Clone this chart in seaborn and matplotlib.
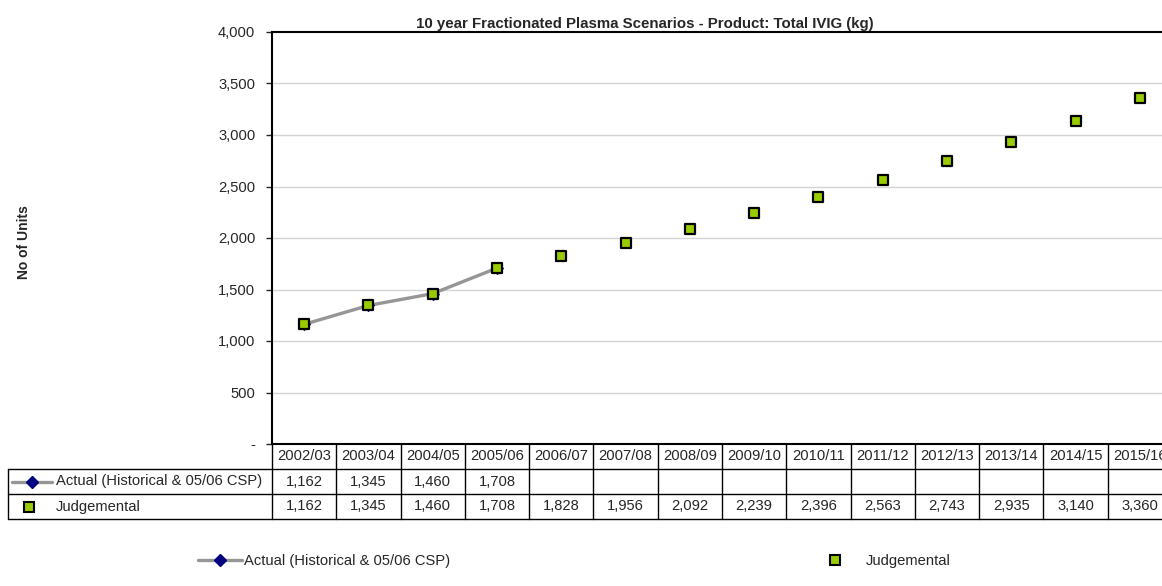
# 10 year Fractionated Plasma Scenarios - Total IVIG (kg)
import numpy as np
import pandas as pd
import matplotlib
matplotlib.use('Agg')
import matplotlib.pyplot as plt
from matplotlib.lines import Line2D
import seaborn as sns

# data
years = ['2002/03', '2003/04', '2004/05', '2005/06', '2006/07', '2007/08', '2008/09',
         '2009/10', '2010/11', '2011/12', '2012/13', '2013/14', '2014/15', '2015/16']
actual = [1162, 1345, 1460, 1708]
judgemental = [1162, 1345, 1460, 1708, 1828, 1956, 2092, 2239, 2396, 2563, 2743, 2935, 3140, 3360]

actual_label = 'Actual (Historical & 05/06 CSP)'
judge_label = 'Judgemental'

sns.set_style('white')
plt.rcParams['font.family'] = ['Liberation Sans', 'DejaVu Sans']
fs = 10.6

df_act = pd.DataFrame({'pos': np.arange(len(actual)), 'value': actual})
df_jud = pd.DataFrame({'pos': np.arange(len(judgemental)), 'value': judgemental})

W, H = 1162, 586
fig = plt.figure(figsize=(W / 100, H / 100), dpi=100)
# plot area: left 272px, top 32px, bottom 444px, runs slightly past the right edge
ax = fig.add_axes([272 / W, 1 - 444 / H, 900 / W, 412 / H])

grey = '#969696'
navy = '#000080'
green = '#99CC00'

sns.lineplot(data=df_act, x='pos', y='value', ax=ax, color=grey, linewidth=2.4,
             marker='D', markersize=6.5, markerfacecolor=navy, markeredgecolor=navy, zorder=3)
sns.scatterplot(data=df_jud, x='pos', y='value', ax=ax, marker='s', s=52,
                color=green, edgecolor='black', linewidth=1.6, zorder=4)

ax.set_xlim(-0.5, len(years) - 0.5)
ax.set_ylim(0, 4000)
ax.set_yticks(np.arange(0, 4001, 500))
ax.yaxis.set_major_formatter(plt.FuncFormatter(lambda v, p: '-' if v == 0 else f'{v:,.0f}'))
ax.set_xticks([])
ax.set_xlabel('')
ax.set_ylabel('')
ax.tick_params(axis='y', labelsize=fs, length=4, width=1, left=True, direction='out', pad=8)

fig.text(24 / W, 1 - 242 / H, 'No of Units', rotation=90, ha='center', va='center',
         fontsize=10, fontweight='bold')

for v in np.arange(500, 4000, 500):
    ax.axhline(v, color='#D4D4D4', linewidth=1, zorder=0)

for side in ['left', 'top', 'right']:
    ax.spines[side].set_color('black')
    ax.spines[side].set_linewidth(1.5)
ax.spines['bottom'].set_visible(False)

fig.text(645 / W, 1 - 24 / H, '10 year Fractionated Plasma Scenarios - Product: Total IVIG (kg)',
         ha='center', va='center', fontsize=10.8, fontweight='bold')

# data table under the axis
row_h = 25 / 412
trans = ax.get_xaxis_transform()
lab_left = (8 - 272) / 900
kw = dict(color='black', linewidth=1, clip_on=False)
ax.plot([-0.5, len(years) - 0.5], [0, 0], transform=trans, color='black', linewidth=1.5, clip_on=False)
for r in range(1, 4):
    ax.plot([lab_left, 1], [-r * row_h, -r * row_h], transform=ax.transAxes, **kw)
ax.plot([lab_left, lab_left], [-row_h, -3 * row_h], transform=ax.transAxes, **kw)
for i in range(len(years) + 1):
    ax.plot([i - 0.5, i - 0.5], [0, -3 * row_h], transform=trans, **kw)

for i, yr in enumerate(years):
    ax.text(i, -0.5 * row_h, yr, transform=trans, ha='center', va='center', fontsize=fs, clip_on=False)
    if i < len(actual):
        ax.text(i, -1.5 * row_h, f'{actual[i]:,}', transform=trans, ha='center', va='center', fontsize=fs)
    ax.text(i, -2.5 * row_h, f'{judgemental[i]:,}', transform=trans, ha='center', va='center', fontsize=fs)

# row label keys
px = lambda x: (x - 272) / 900
ax.plot([px(12), px(52)], [-1.5 * row_h] * 2, transform=ax.transAxes, color=grey, linewidth=2.4, clip_on=False)
ax.plot([px(32)], [-1.5 * row_h], transform=ax.transAxes, marker='D', markersize=6.5,
        color=navy, clip_on=False)
ax.text(px(56), -1.5 * row_h, actual_label, transform=ax.transAxes, ha='left', va='center', fontsize=fs)
ax.plot([px(29)], [-2.5 * row_h], transform=ax.transAxes, marker='s', markersize=6.5,
        markerfacecolor=green, markeredgecolor='black', markeredgewidth=1.5, clip_on=False)
ax.text(px(56), -2.5 * row_h, judge_label, transform=ax.transAxes, ha='left', va='center', fontsize=fs)

# legend along the bottom
h_act = Line2D([], [], color=grey, linewidth=2.4, marker='D', markersize=6.5,
               markerfacecolor=navy, markeredgecolor=navy)
h_jud = Line2D([], [], linestyle='none', marker='s', markersize=6.5,
               markerfacecolor=green, markeredgecolor='black', markeredgewidth=1.5)
fig.legend(handles=[h_act], labels=[actual_label], loc='center left',
           bbox_to_anchor=(198 / W, 1 - 561 / H), frameon=False, fontsize=fs,
           handlelength=3.0, handletextpad=0.1, borderpad=0, borderaxespad=0)
fig.legend(handles=[h_jud], labels=[judge_label], loc='center left',
           bbox_to_anchor=(826 / W, 1 - 561 / H), frameon=False, fontsize=fs,
           handlelength=1.2, handletextpad=1.5, borderpad=0, borderaxespad=0)

fig.savefig('out.png', dpi=100)
